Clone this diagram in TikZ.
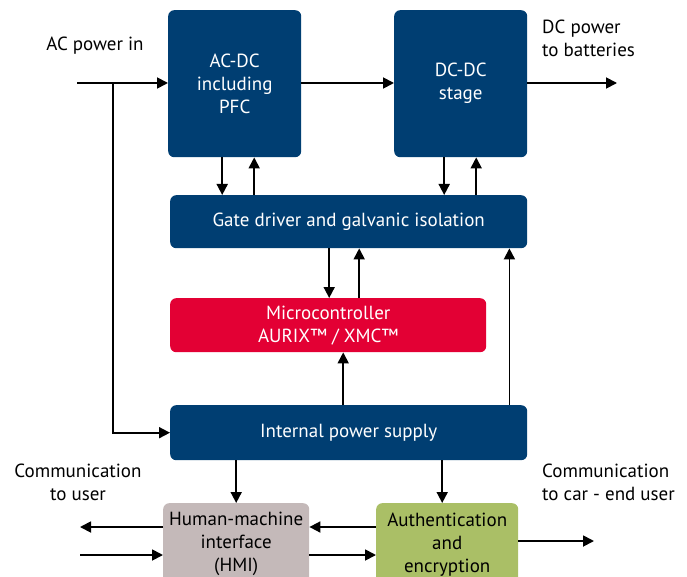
\documentclass[tikz,border=0pt]{standalone}
\usepackage{fontspec}
\setmainfont{PT Sans}
\usetikzlibrary{arrows.meta}
\definecolor{ifxblue}{RGB}{0,62,114}
\definecolor{ifxred}{RGB}{227,0,52}
\definecolor{ifxgrey}{RGB}{196,185,185}
\definecolor{ifxgreen}{RGB}{170,191,102}

\begin{document}
\begin{tikzpicture}[x=1pt,y=-1pt,
  blk/.style={rounded corners=6pt,anchor=north west,inner sep=0pt,align=center,font=\fontsize{19}{23}\selectfont},
  lbl/.style={inner sep=0pt,font=\fontsize{19}{23}\selectfont},
  arr/.style={line width=1.8pt,-{Triangle[length=11pt,width=11pt]}}]
  \useasboundingbox (0,0) rectangle (687,577);
  \node[blk,fill=ifxblue,text=white,minimum width=133pt,minimum height=147pt] (acdc) at (168,10) {AC-DC\\including\\PFC};
  \node[blk,fill=ifxblue,text=white,minimum width=133pt,minimum height=147pt] (dcdc) at (394,10) {DC-DC\\stage};
  \node[blk,fill=ifxblue,text=white,minimum width=357pt,minimum height=53pt] (gate) at (170,195) {Gate driver and galvanic isolation};
  \node[blk,fill=ifxred,text=white,minimum width=316pt,minimum height=54pt] (mcu) at (170,298) {Microcontroller\\AURIX™ / XMC™};
  \node[blk,fill=ifxblue,text=white,minimum width=357pt,minimum height=55pt] (ips) at (170,405) {Internal power supply};
  \node[blk,fill=ifxgrey,text=black,minimum width=146pt,minimum height=82pt] (hmi) at (163,503) {Human-machine\\interface\\(HMI)};
  \node[blk,fill=ifxgreen,text=black,minimum width=142pt,minimum height=82pt] (auth) at (376,503) {Authentication\\and\\encryption};

  \node[lbl] (acinlbl) at (95,46) {AC power in};
  \node[lbl,anchor=west,align=left] (dcoutlbl) at (542,38.5) {DC power\\to batteries};
  \node[lbl,align=center] (userlbl) at (78,482) {Communication\\to user};
  \node[lbl,anchor=west,align=left] (carlbl) at (542,482) {Communication\\to car - end user};

  \coordinate (acin) at (77,83);
  \coordinate (br) at (113,83);
  \coordinate (dcout) at (617,83);
  \coordinate (userout) at (80,527);
  \coordinate (userin) at (80,555);
  \coordinate (carout) at (594,541);

  \draw[arr] (acin) -- (acin -| acdc.west);
  \draw[arr] (br) |- (ips.west);
  \draw[arr] (acin -| acdc.east) -- (acin -| dcdc.west);
  \draw[arr] (acin -| dcdc.east) -- (dcout);

  \draw[arr] ([xshift=-12.5pt]acdc.south) -- ([xshift=-12.5pt]acdc.south |- gate.north);
  \draw[arr] ([xshift=19.5pt]acdc.south |- gate.north) -- ([xshift=19.5pt]acdc.south);
  \draw[arr] ([xshift=-16.5pt]dcdc.south) -- ([xshift=-16.5pt]dcdc.south |- gate.north);
  \draw[arr] ([xshift=15.5pt]dcdc.south |- gate.north) -- ([xshift=15.5pt]dcdc.south);

  \draw[arr] ([xshift=-19.5pt]gate.south) -- ([xshift=-19.5pt]gate.south |- mcu.north);
  \draw[arr] ([xshift=10.5pt]gate.south |- mcu.north) -- ([xshift=10.5pt]gate.south);
  \draw[arr] ([xshift=-5.5pt]ips.north) -- ([xshift=-5.5pt]ips.north |- mcu.south);
  \draw[arr] ([xshift=-18pt]ips.north east) -- ([xshift=-18pt]ips.north east |- gate.south);

  \draw[arr] (ips.south -| hmi.north) -- (hmi.north);
  \draw[arr] ([xshift=-5pt]ips.south -| auth.north) -- ([xshift=-5pt]auth.north);

  \draw[arr] (userout -| hmi.west) -- (userout);
  \draw[arr] (userin) -- (userin -| hmi.west);
  \draw[arr] (userout -| auth.west) -- (userout -| hmi.east);
  \draw[arr] (userin -| hmi.east) -- (userin -| auth.west);
  \draw[arr] (carout -| auth.east) -- (carout);
\end{tikzpicture}
\end{document}
